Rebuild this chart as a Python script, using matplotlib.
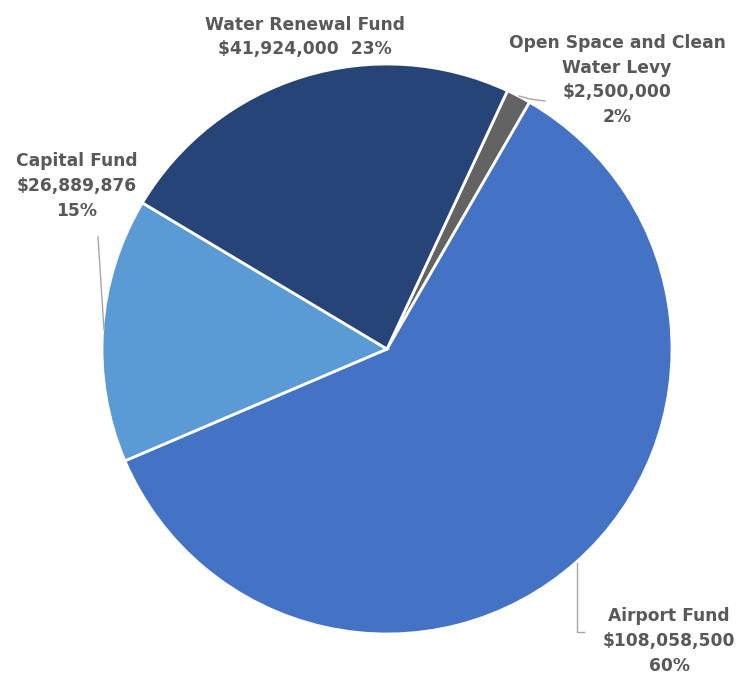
import matplotlib
matplotlib.use("Agg")
import matplotlib.pyplot as plt

# Fund allocations (USD) and their printed shares
funds = ["Open Space and Clean\nWater Levy", "Airport Fund", "Capital Fund", "Water Renewal Fund"]
amounts = [2_500_000, 108_058_500, 26_889_876, 41_924_000]
shares = [2, 60, 15, 23]
colors = ["#636363", "#4472C4", "#5B9BD5", "#264478"]

W, H = 751, 675
fig = plt.figure(figsize=(W / 100, H / 100), dpi=100)
ax = fig.add_axes([0, 0, 1, 1])

cx, cy, r = 387, H - 349, 285
ax.pie(amounts, colors=colors, startangle=65, counterclock=False,
       center=(cx, cy), radius=r,
       wedgeprops=dict(edgecolor="white", linewidth=2))

ax.set_xlim(0, W)
ax.set_ylim(0, H)
ax.set_aspect("equal")
ax.axis("off")

txt = dict(color="#595959", fontsize=12.3, fontweight="bold",
           family="DejaVu Sans", ha="center", va="center", linespacing=1.47)

def money(v):
    return f"${v:,.0f}"

ax.text(617, H - 80, f"{funds[0]}\n{money(amounts[0])}\n{shares[0]}%", **txt)
ax.text(669, H - 641, f"{funds[1]}\n{money(amounts[1])}\n{shares[1]}%", **txt)
ax.text(77, H - 186, f"{funds[2]}\n{money(amounts[2])}\n{shares[2]}%", **txt)
ax.text(305, H - 37, f"{funds[3]}\n{money(amounts[3])}  {shares[3]}%", **txt)

# leader lines
lc = dict(color="#A6A6A6", linewidth=1)
ax.plot([519, 530, 545], [H - 96, H - 99, H - 101], **lc)
ax.plot([98, 104], [H - 237, H - 330], **lc)
ax.plot([577, 577, 584], [H - 563, H - 632, H - 632], **lc)

fig.savefig("out.png", dpi=100)
